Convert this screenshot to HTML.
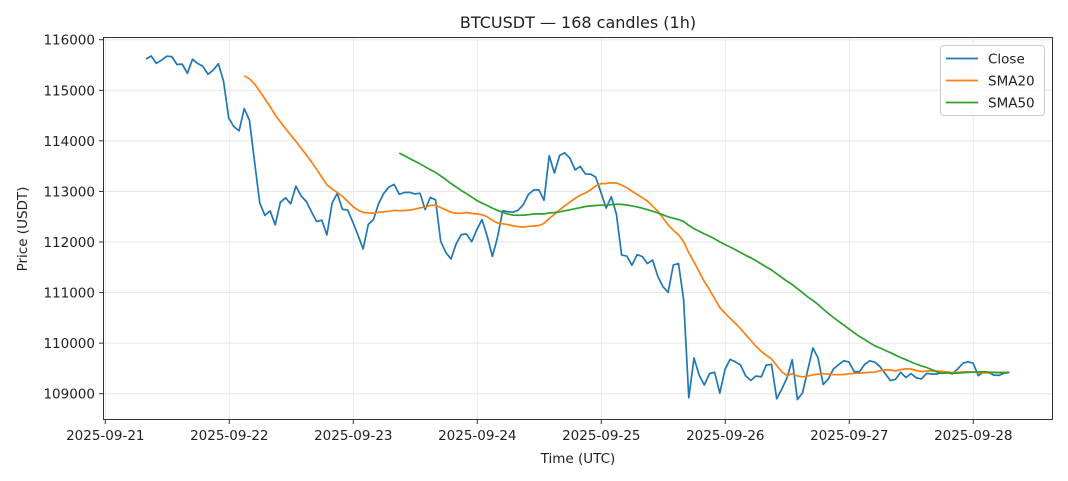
<!DOCTYPE html>
<html><head><meta charset="utf-8"><style>
html,body{margin:0;padding:0;background:#fff;}
svg{display:block;font-family:"DejaVu Sans","Liberation Sans",sans-serif;}
</style></head><body>
<svg id="s" width="1068" height="481" viewBox="0 0 1068 481" xmlns="http://www.w3.org/2000/svg">
<rect width="1068" height="481" fill="#fff"/>
<g id="grid"></g>
<g id="ticks"></g>
<polyline id="close" fill="none" stroke="#1f77b4" stroke-width="1.7" stroke-linejoin="round"/>
<polyline id="sma20" fill="none" stroke="#ff7f0e" stroke-width="1.7" stroke-linejoin="round"/>
<polyline id="sma50" fill="none" stroke="#2ca02c" stroke-width="1.7" stroke-linejoin="round"/>
<rect x="103.5" y="37.5" width="949" height="382" fill="none" stroke="#333" stroke-width="1"/>
<text x="578" y="28" font-size="16" text-anchor="middle" fill="#222">BTCUSDT — 168 candles (1h)</text>
<text x="578" y="463" font-size="13.5" text-anchor="middle" fill="#222">Time (UTC)</text>
<text transform="translate(27,229) rotate(-90)" font-size="13.5" text-anchor="middle" fill="#222">Price (USDT)</text>
<rect x="940.5" y="45.5" width="104" height="70" rx="3" fill="#fff" fill-opacity="0.85" stroke="#ccc"/>
<line x1="946" y1="58.5" x2="978" y2="58.5" stroke="#1f77b4" stroke-width="1.7"/>
<line x1="946" y1="80.5" x2="978" y2="80.5" stroke="#ff7f0e" stroke-width="1.7"/>
<line x1="946" y1="102.5" x2="978" y2="102.5" stroke="#2ca02c" stroke-width="1.7"/>
<text x="988" y="63.5" font-size="13.5" fill="#222">Close</text>
<text x="988" y="85.5" font-size="13.5" fill="#222">SMA20</text>
<text x="988" y="107.5" font-size="13.5" fill="#222">SMA50</text>
</svg>
<script>
var ns="http://www.w3.org/2000/svg";
function el(t,a,p,txt){var e=document.createElementNS(ns,t);for(var k in a)e.setAttribute(k,a[k]);if(txt)e.textContent=txt;document.getElementById(p).appendChild(e);return e;}
for(var k=0;k<8;k++){var y=393.7-k*50.57;
el("line",{x1:103.5,x2:1052.5,y1:y,y2:y,stroke:"#e6e6e6","stroke-width":1},"grid");
el("line",{x1:99,x2:103.5,y1:y,y2:y,stroke:"#333"},"ticks");
el("text",{x:95,y:y+5,"font-size":13.5,"text-anchor":"end",fill:"#222"},"ticks",String(109000+k*1000));}
for(var d=0;d<8;d++){var x=105.3+124*d;
el("line",{x1:x,x2:x,y1:37.5,y2:419.5,stroke:"#e6eaf0","stroke-width":1},"grid");
el("line",{x1:x,x2:x,y1:419.5,y2:424,stroke:"#333"},"ticks");
el("text",{x:x,y:440,"font-size":13.5,"text-anchor":"middle",fill:"#222"},"ticks","2025-09-"+(21+d));}
var P=[[146,59],[151.7,55.7],[156.7,64],[167.3,55.7],[172.3,56.7],[177.3,65],[182.7,64],[187.7,74],[192.3,59],[197.3,63.3],[202.7,66],[208,74.3],[213.3,70],[218.7,63.3],[223.3,79.3],[229,120],[234.3,127.3],[239.3,131],[244.3,108.3],[249.3,119.3],[254.3,160],[259.7,202.7],[265,215.7],[270,210.7],[275.3,225],[280.3,202.3],[285.7,197.7],[290.7,204],[295.7,185.7],[301,195.7],[306,201],[311,210.7],[316,221.7],[321.7,220],[327.3,236],[332.3,201.7],[337.3,193.3],[342.3,209.3],[347.3,209.3],[352.3,221],[357.3,232.7],[362.7,251],[368.3,224.3],[373.3,220],[378.3,204.3],
[384.3,192.3],[389.3,186.7],[394.3,184.3],[399.3,194.3],[405,192.3],[410,192.3],[415,194],[420,193.3],[425,210],[430,197.3],[436,200],[441,244.3],[446,252.7],[451,259],[456,244],[461.7,234],[466.7,234],[471.7,241.7],[476.7,230],[482.3,219],[487.3,236.7],[492.7,257.7],[497.7,236.7],[502.7,210.7],[507.7,211.7],[512.7,212.3],[517.7,210.7],[522.7,206],[527.7,195],[532.7,190.7],[537.7,187.3],[544,200.7],[549.3,155],[554.3,173.3],[560,154],[565,152.7],[570,158.3],[575,170],[580,166],[585,174],[590,174],[595,175],[600,189.3],[606,208.3],[611,196],[616.7,215],
[621.7,256],[626.7,256],[631.7,265.7],[637.3,254.3],[642.7,256.7],[647.7,264],[652.7,260],[657.7,276],[663.3,287.3],[668.3,292.7],[673.3,265],[679,263.3],[683.3,293.3],[689,401.7],[694.3,355],[699.3,375.7],[704.3,385],[710,372.3],[715,372.3],[720,394],[725,369.3],[730,359.3],[735,361.7],[740,364],[745.7,376],[751,380.7],[756,376],[761,377.3],[766.7,364.3],[771.7,364.3],[776.7,399],[781.7,389.3],[786.7,379],[792.3,359.3],
[797.7,402.3],[802.7,392.7],[812.7,347.7],[817.7,356],[822.7,385],[828.3,379],[833.3,369],[838.3,365],[843.3,360.7],[848.3,360.7],[854,371.7],[859,372.3],[864,365],[869.3,360.7],[874.3,361.7],[879.3,365.7],[885,373.3],[890.7,381],[895.7,379.3],[900.7,372.3],[905.7,377.7],[910.7,373.3],[916,377.7],[921.7,379],[926.7,373.3],[931.7,374],[937.3,374],[942.3,372.3],[947.3,372.3],[952.7,374],[957.7,369],[962.7,363.3],[967.7,361.7],[973.3,363.3],[978.3,375.7],[983.3,371.7],[988.3,372.3],[993.3,375],[998.3,375.7],[1003.3,373.3],[1009.3,372.7]];
function interp(x){for(var i=0;i<P.length-1;i++){if(x<=P[i+1][0]){var a=P[i],b=P[i+1];return a[1]+(b[1]-a[1])*(x-a[0])/(b[0]-a[0]);}}return P[P.length-1][1];}
var N=168,st=(1009.3-146)/167,X=[],Y=[];
for(var i=0;i<N;i++){X.push(146+i*st);Y.push(interp(146+i*st));}
// keep traced points exact where close
var cs=[];for(var i=0;i<N;i++)cs.push(X[i].toFixed(1)+","+Y[i].toFixed(1));
document.getElementById("close").setAttribute("points",cs.join(" "));
function sma(n,id){var s=[];for(var i=n-1;i<N;i++){var t=0;for(var j=i-n+1;j<=i;j++)t+=Y[j];s.push(X[i].toFixed(1)+","+(t/n).toFixed(1));}document.getElementById(id).setAttribute("points",s.join(" "));}
sma(20,"sma20");sma(50,"sma50");
</script>
</body></html>
